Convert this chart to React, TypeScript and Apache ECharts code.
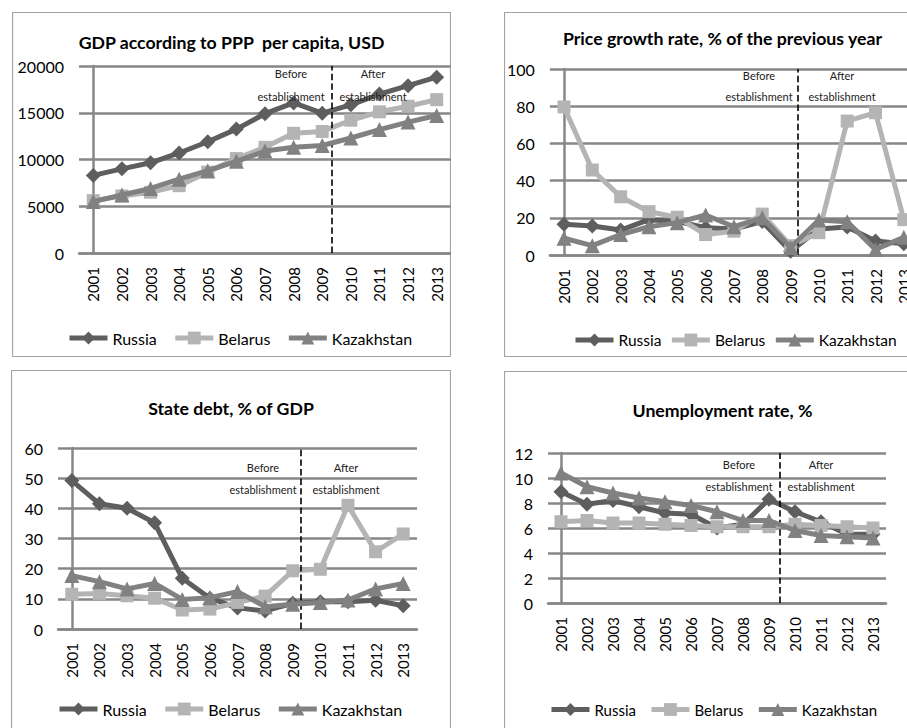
import React, { useEffect, useRef } from 'react';
import * as echarts from 'echarts';

const years = ['2001', '2002', '2003', '2004', '2005', '2006', '2007', '2008', '2009', '2010', '2011', '2012', '2013'];
const countryNames = ['Russia', 'Belarus', 'Kazakhstan'];

const gdpRussia = [8300, 9000, 9650, 10700, 11900, 13250, 14900, 16050, 14950, 15850, 17000, 17900, 18800];
const gdpBelarus = [5600, 6100, 6500, 7200, 8650, 10100, 11300, 12800, 13000, 14200, 15100, 15700, 16400];
const gdpKazakhstan = [5500, 6200, 6900, 7900, 8800, 9800, 10900, 11300, 11500, 12300, 13200, 14000, 14700];

const priceRussia = [16.5, 15.6, 13.4, 19, 18, 14.7, 14, 18, 2, 14, 15, 7.5, 6];
const priceBelarus = [79.6, 45.7, 31.3, 23.3, 20.3, 11, 12.8, 22, 5, 12, 72, 76.5, 19];
const priceKazakhstan = [9, 5, 11, 15.2, 17.4, 21.5, 15.2, 20, 4, 18.8, 17.9, 3, 9.5];

const debtRussia = [49.2, 41.5, 40, 35.2, 16.8, 10.2, 7, 6, 8.5, 9, 9, 9.5, 7.7];
const debtBelarus = [11.5, 11.8, 11, 10.2, 6.3, 6.6, 8.8, 10.9, 19.3, 19.8, 41, 25.6, 31.5];
const debtKazakhstan = [17.7, 15.7, 13.3, 15.1, 9.8, 10.4, 12.4, 7.4, 8.2, 8.8, 9.6, 13.3, 15.1];

const unempRussia = [8.9, 7.9, 8.2, 7.7, 7.2, 7.1, 6.0, 6.3, 8.3, 7.3, 6.5, 5.5, 5.5];
const unempBelarus = [6.5, 6.6, 6.4, 6.4, 6.3, 6.2, 6.1, 6.1, 6.1, 6.3, 6.2, 6.1, 6.0];
const unempKazakhstan = [10.4, 9.3, 8.8, 8.4, 8.1, 7.8, 7.3, 6.6, 6.6, 5.8, 5.4, 5.3, 5.2];

const yMaxes = [20000, 100, 60, 12];
const yIntervals = [5000, 20, 10, 2];
const dividerPositions = [8.35, 8.25, 8.3, 8.4];
const beforeText = 'Before';
const afterText = 'After';
const establishmentText = 'establishment';

const titles = [
  'GDP according to PPP  per capita, USD',
  'Price growth rate, % of the previous year',
  'State debt, % of GDP',
  'Unemployment rate, %',
];

const panelData = [
  [gdpRussia, gdpBelarus, gdpKazakhstan],
  [priceRussia, priceBelarus, priceKazakhstan],
  [debtRussia, debtBelarus, debtKazakhstan],
  [unempRussia, unempBelarus, unempKazakhstan],
];

const layouts = [
  { box: { left: 12, top: 12, width: 439, height: 345 }, titleTop: 16, grid: { left: 67, top: 54, width: 372, height: 187 }, legendLeft: 50, legendTop: 313, legendGap: 16, legendFont: 16, before: { x: 279, y1: 61, y2: 84 }, afterX: 361 },
  { box: { left: 504, top: 12, width: 437, height: 345 }, titleTop: 12, grid: { left: 45, top: 57, width: 369, height: 186 }, legendLeft: 64, legendTop: 315, legendGap: 8, legendFont: 15.5, before: { x: 255, y1: 63, y2: 84 }, afterX: 338 },
  { box: { left: 11, top: 370, width: 440, height: 370 }, titleTop: 24, grid: { left: 47, top: 78, width: 359, height: 181 }, legendLeft: 41, legendTop: 326, legendGap: 16, legendFont: 16, before: { x: 252, y1: 97, y2: 119 }, afterX: 335 },
  { box: { left: 504, top: 371, width: 437, height: 370 }, titleTop: 25, grid: { left: 44, top: 82, width: 338, height: 150 }, legendLeft: 40, legendTop: 326, legendGap: 13, legendFont: 15, before: { x: 235, y1: 93, y2: 115 }, afterX: 317 },
];

const seriesColors = ['#5e5e5e', '#b4b4b4', '#818181'];
const seriesSymbols = ['diamond', 'rect', 'triangle'];
const symbolSizes = [15, 13, 15];
const gridColor = '#878787';

function buildOption(i: number): any {
  const L = layouts[i];
  const data = panelData[i];
  const series: any[] = countryNames.map((name, k) => ({
    name,
    type: 'line',
    data: data[k],
    symbol: seriesSymbols[k],
    symbolSize: symbolSizes[k],
    itemStyle: { color: seriesColors[k] },
    lineStyle: { color: seriesColors[k], width: 5 },
    z: 3 + k,
  }));
  series.push({
    name: '',
    type: 'line',
    xAxisIndex: 1,
    data: [],
    silent: true,
    markLine: {
      symbol: 'none',
      silent: true,
      label: { show: false },
      lineStyle: { type: 'dashed', color: '#000', width: 1.6 },
      data: [{ xAxis: dividerPositions[i] }],
    },
  });
  const note = (x: number, y: number, t: string) => ({
    type: 'text',
    x,
    y,
    silent: true,
    style: { text: t, fill: '#222', fontSize: 11, fontFamily: 'Lato', align: 'center', verticalAlign: 'middle' },
    z: 10,
  });
  return {
    animation: false,
    textStyle: { fontFamily: 'Lato' },
    title: {
      text: titles[i],
      left: 'center',
      top: L.titleTop,
      textStyle: { fontSize: 17.7, fontWeight: 'bold', color: '#000', fontFamily: 'Lato' },
    },
    legend: {
      data: countryNames,
      left: L.legendLeft,
      top: L.legendTop,
      itemWidth: 38,
      itemHeight: 16,
      itemGap: L.legendGap,
      lineStyle: { width: 5 },
      textStyle: { fontSize: L.legendFont, color: '#000', fontFamily: 'Lato' },
    },
    grid: { ...L.grid },
    xAxis: [
      {
        type: 'category',
        data: years,
        boundaryGap: true,
        axisLine: { lineStyle: { color: gridColor, width: 2.5 } },
        axisTick: { show: false },
        axisLabel: { rotate: 90, margin: 14, fontSize: 15, color: '#000', fontFamily: 'Lato' },
      },
      { type: 'value', min: -0.5, max: 12.5, show: false },
    ],
    yAxis: {
      type: 'value',
      min: 0,
      max: yMaxes[i],
      interval: yIntervals[i],
      axisLine: { show: true, lineStyle: { color: gridColor, width: 2.5 } },
      axisTick: { show: false },
      splitLine: { lineStyle: { color: gridColor, width: 2.5 } },
      axisLabel: { fontSize: 16, margin: 15, color: '#000', fontFamily: 'Lato', formatter: (v: number) => String(v) },
    },
    series,
    graphic: [
      {
        type: 'rect',
        silent: true,
        shape: { x: 0.5, y: 0.5, width: L.box.width - 1, height: L.box.height - 1 },
        style: { fill: 'none', stroke: '#a3a3a3', lineWidth: 1.2 },
        z: 0,
      },
      note(L.before.x, L.before.y1, beforeText),
      note(L.before.x, L.before.y2, establishmentText),
      note(L.afterX, L.before.y1, afterText),
      note(L.afterX, L.before.y2, establishmentText),
    ],
  };
}

function Panel({ index }: { index: number }) {
  const ref = useRef<HTMLDivElement>(null);
  useEffect(() => {
    if (!ref.current) return;
    const chart = echarts.init(ref.current, undefined, { renderer: 'svg' });
    chart.setOption(buildOption(index));
    return () => chart.dispose();
  }, [index]);
  const b = layouts[index].box;
  return <div ref={ref} style={{ position: 'absolute', left: b.left, top: b.top, width: b.width, height: b.height }} />;
}

export default function App() {
  return (
    <div style={{ position: 'fixed', left: 0, top: 0, width: 907, height: 728, overflow: 'hidden', background: '#fff' }}>
      {layouts.map((_, i) => (
        <Panel key={i} index={i} />
      ))}
    </div>
  );
}
